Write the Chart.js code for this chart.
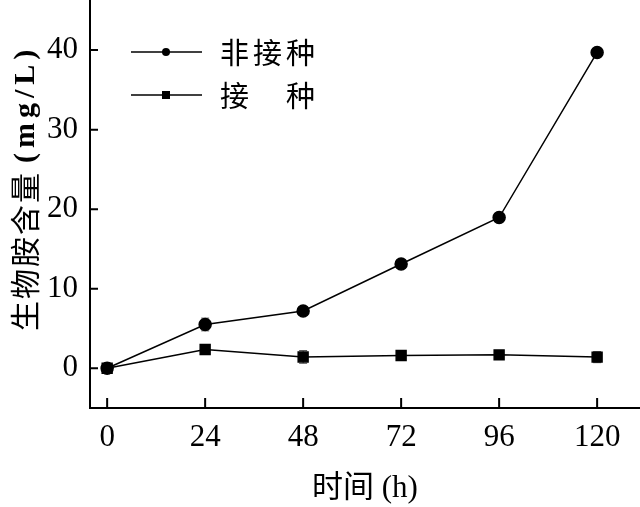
<!DOCTYPE html>
<html>
<head>
<meta charset="utf-8">
<script src="https://cdn.jsdelivr.net/npm/chart.js@4.4.1/dist/chart.umd.min.js"></script>
<style>
  html, body { margin: 0; padding: 0; background: #fff; }
  #wrap { width: 640px; height: 507px; }
</style>
</head>
<body>
<div id="wrap"><canvas id="amineChart" width="640" height="507"></canvas></div>
<script>
// time points (h) and biogenic amine content (mg/L)
const hours      = [0, 24, 48, 72, 96, 120];
const nonInoc    = [0.0, 5.5, 7.2, 13.1, 18.95, 39.7];
const nonInocErr = [0.2, 0.8, 0.3, 0.2, 0.4, 0.3];
const inoc       = [0.0, 2.35, 1.42, 1.6, 1.68, 1.4];
const inocErr    = [0.1, 0.3, 0.8, 0.2, 0.2, 0.7];
const yTicks     = [0, 10, 20, 30, 40];
const seriesNames = ['非接种', '接\u3000种'];
const yTitleCjk  = '生物胺含量';
const yTitleUnit = '(mg/L)';

const serif = '"Liberation Serif", "Noto Sans CJK SC", serif';

const toPoints = vals => hours.map((h, i) => ({ x: h, y: vals[i] }));

// gray error bars, drawn behind the markers
const errorBars = {
  id: 'errorBars',
  beforeDatasetsDraw(chart) {
    const { ctx, scales: { x, y } } = chart;
    const errs = [nonInocErr, inocErr];
    ctx.save();
    ctx.strokeStyle = '#555';
    ctx.lineWidth = 1;
    chart.data.datasets.forEach((ds, di) => {
      ds.data.forEach((p, i) => {
        const px = x.getPixelForValue(p.x);
        const top = y.getPixelForValue(p.y + errs[di][i]);
        const bot = y.getPixelForValue(p.y - errs[di][i]);
        ctx.beginPath();
        ctx.moveTo(px, top); ctx.lineTo(px, bot);
        ctx.moveTo(px - 4, top); ctx.lineTo(px + 4, top);
        ctx.moveTo(px - 4, bot); ctx.lineTo(px + 4, bot);
        ctx.stroke();
      });
    });
    ctx.restore();
  }
};

// inward tick marks on both axes
const innerTicks = {
  id: 'innerTicks',
  afterDraw(chart) {
    const { ctx, chartArea, scales: { x, y } } = chart;
    ctx.save();
    ctx.strokeStyle = '#000';
    ctx.lineWidth = 2;
    ctx.beginPath();
    hours.forEach(h => {
      const px = x.getPixelForValue(h);
      ctx.moveTo(px, chartArea.bottom);
      ctx.lineTo(px, chartArea.bottom - 10);
    });
    yTicks.forEach(v => {
      const py = y.getPixelForValue(v);
      ctx.moveTo(chartArea.left, py);
      ctx.lineTo(chartArea.left + 8, py);
    });
    ctx.stroke();
    ctx.restore();
  }
};

// rotated y title: CJK part plus a bold, spaced unit
const yTitle = {
  id: 'yTitle',
  afterDraw(chart) {
    const { ctx } = chart;
    ctx.save();
    ctx.translate(25, 331);
    ctx.rotate(-Math.PI / 2);
    ctx.fillStyle = '#000';
    ctx.textBaseline = 'middle';
    ctx.textAlign = 'left';
    ctx.font = '30px "Noto Sans CJK SC"';
    ctx.letterSpacing = '2px';
    ctx.fillText(yTitleCjk, 0, 0);
    const w = ctx.measureText(yTitleCjk).width;
    ctx.font = 'bold 30px "Liberation Serif"';
    ctx.letterSpacing = '5px';
    ctx.fillText(yTitleUnit, w + 8, 1);
    ctx.restore();
  }
};

// legend placed inside the plot, upper left
const insideLegend = {
  id: 'insideLegend',
  afterDraw(chart) {
    const { ctx } = chart;
    const rows = [52, 95];
    ctx.save();
    chart.data.datasets.forEach((ds, i) => {
      const yy = rows[i];
      ctx.strokeStyle = '#000';
      ctx.lineWidth = 1.5;
      ctx.beginPath();
      ctx.moveTo(131, yy); ctx.lineTo(202, yy);
      ctx.stroke();
      ctx.fillStyle = '#000';
      if (ds.pointStyle === 'rect') {
        ctx.fillRect(166 - 4, yy - 4, 8, 8);
      } else {
        ctx.beginPath();
        ctx.arc(166, yy, 4, 0, Math.PI * 2);
        ctx.fill();
      }
      ctx.font = '29px "Noto Sans CJK SC"';
      ctx.letterSpacing = '4px';
      ctx.textBaseline = 'middle';
      ctx.fillText(seriesNames[i], 220, yy + 1);
    });
    ctx.restore();
  }
};

new Chart(document.getElementById('amineChart'), {
  type: 'line',
  data: {
    datasets: [
      {
        label: seriesNames[0],
        data: toPoints(nonInoc),
        borderColor: '#000',
        backgroundColor: '#000',
        borderWidth: 1.5,
        pointStyle: 'circle',
        pointRadius: 6,
        tension: 0
      },
      {
        label: seriesNames[1],
        data: toPoints(inoc),
        borderColor: '#000',
        backgroundColor: '#000',
        borderWidth: 1.5,
        pointStyle: 'rect',
        pointRadius: 7,
        tension: 0
      }
    ]
  },
  options: {
    responsive: false,
    animation: false,
    layout: { padding: 0, autoPadding: false },
    plugins: {
      legend: { display: false },
      tooltip: { enabled: false }
    },
    scales: {
      x: {
        type: 'linear',
        min: -4.2,
        max: 130.5,
        afterFit: s => { s.height = 99; s.paddingLeft = 0; s.paddingRight = 0; },
        afterBuildTicks: s => { s.ticks = hours.map(v => ({ value: v })); },
        grid: { display: false, drawTicks: false },
        border: { display: true, color: '#000', width: 2 },
        ticks: {
          color: '#000',
          padding: 11,
          maxRotation: 0,
          font: { family: serif, size: 31 }
        },
        title: {
          display: true,
          text: '时间 (h)',
          color: '#000',
          padding: { top: 2, bottom: 0 },
          font: { family: serif, size: 31 }
        }
      },
      y: {
        min: -5,
        max: 46.3,
        afterFit: s => { s.width = 90; s.paddingTop = 0; s.paddingBottom = 0; },
        afterBuildTicks: s => { s.ticks = yTicks.map(v => ({ value: v })); },
        grid: { display: false, drawTicks: false },
        border: { display: true, color: '#000', width: 2 },
        ticks: {
          color: '#000',
          padding: 12,
          font: { family: serif, size: 31 }
        },
        title: { display: false }
      }
    }
  },
  plugins: [errorBars, innerTicks, yTitle, insideLegend]
});
</script>
</body>
</html>
